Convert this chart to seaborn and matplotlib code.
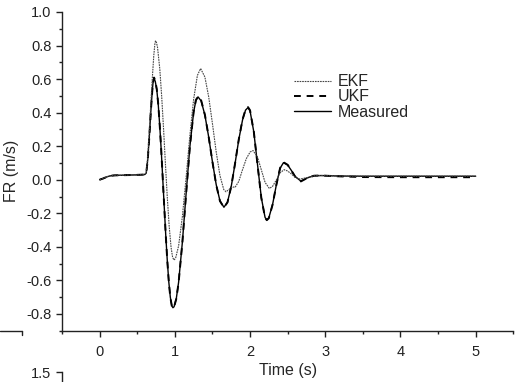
import matplotlib
matplotlib.use("Agg")
import matplotlib.pyplot as plt
from matplotlib.lines import Line2D
from matplotlib.ticker import MultipleLocator
import seaborn as sns
import pandas as pd

# ---------------- data ----------------
ukf_t = [0.0, 0.05, 0.10, 0.15, 0.20, 0.30, 0.40, 0.50, 0.60, 0.62, 0.64, 0.66, 0.68, 0.70, 0.71,
         0.724, 0.74, 0.76, 0.78, 0.80, 0.82, 0.85, 0.88, 0.90, 0.92, 0.94, 0.96, 0.975, 0.99, 1.02,
         1.05, 1.10, 1.15, 1.20, 1.25, 1.28, 1.308, 1.35, 1.40, 1.45, 1.50, 1.55, 1.60, 1.653, 1.70,
         1.75, 1.80, 1.85, 1.90, 1.94, 1.973, 2.00, 2.05, 2.10, 2.15, 2.20, 2.223, 2.25, 2.30, 2.35,
         2.40, 2.445, 2.50, 2.55, 2.60, 2.676, 2.75, 2.85, 2.95, 3.2, 3.5, 4.0, 4.5, 5.0]
ukf_v = [0.0, 0.008, 0.018, 0.024, 0.026, 0.027, 0.028, 0.029, 0.031, 0.04, 0.12, 0.25, 0.40, 0.53, 0.58,
         0.609, 0.59, 0.54, 0.448, 0.32, 0.171, -0.082, -0.335, -0.483, -0.609, -0.70, -0.753, -0.765, -0.759, -0.709,
         -0.614, -0.376, -0.084, 0.197, 0.405, 0.475, 0.497, 0.473, 0.387, 0.256, 0.107, -0.030, -0.127, -0.166, -0.135,
         -0.040, 0.095, 0.240, 0.359, 0.418, 0.433, 0.414, 0.287, 0.088, -0.109, -0.227, -0.241, -0.229, -0.148, -0.030,
         0.070, 0.104, 0.089, 0.055, 0.018, -0.010, 0.008, 0.024, 0.025, 0.020, 0.016, 0.015, 0.015, 0.015]

meas_t = ukf_t
meas_v = [0.0, 0.008, 0.018, 0.024, 0.026, 0.027, 0.028, 0.029, 0.031, 0.04, 0.12, 0.25, 0.40, 0.53, 0.578,
          0.604, 0.586, 0.537, 0.446, 0.318, 0.170, -0.083, -0.336, -0.484, -0.610, -0.700, -0.752, -0.763, -0.757, -0.707,
          -0.612, -0.374, -0.083, 0.197, 0.403, 0.472, 0.494, 0.470, 0.385, 0.255, 0.107, -0.029, -0.126, -0.164, -0.134,
          -0.040, 0.094, 0.238, 0.356, 0.415, 0.430, 0.411, 0.285, 0.088, -0.107, -0.225, -0.239, -0.227, -0.147, -0.030,
          0.069, 0.102, 0.088, 0.055, 0.019, -0.008, 0.009, 0.024, 0.025, 0.022, 0.021, 0.021, 0.021, 0.021]

ekf_t = [0.0, 0.05, 0.10, 0.15, 0.20, 0.30, 0.40, 0.50, 0.60, 0.62, 0.64, 0.66, 0.68, 0.70, 0.72,
         0.735, 0.743, 0.755, 0.77, 0.80, 0.825, 0.85, 0.875, 0.90, 0.925, 0.95, 0.97, 0.988, 1.01, 1.05,
         1.10, 1.15, 1.20, 1.25, 1.30, 1.343, 1.40, 1.45, 1.50, 1.55, 1.60, 1.65, 1.68, 1.72, 1.765,
         1.80, 1.85, 1.90, 1.95, 2.00, 2.04, 2.10, 2.15, 2.20, 2.257, 2.30, 2.35, 2.40, 2.453, 2.50,
         2.55, 2.60, 2.66, 2.75, 2.85, 2.95, 3.2, 3.5, 4.0, 4.5, 5.0]
ekf_v = [0.0, 0.008, 0.018, 0.024, 0.026, 0.027, 0.028, 0.029, 0.031, 0.04, 0.14, 0.28, 0.45, 0.60, 0.74,
         0.81, 0.828, 0.82, 0.789, 0.661, 0.499, 0.304, 0.095, -0.106, -0.277, -0.403, -0.461, -0.479, -0.468, -0.395,
         -0.221, 0.013, 0.263, 0.480, 0.622, 0.663, 0.612, 0.495, 0.335, 0.166, 0.025, -0.058, -0.072, -0.058, -0.042,
         -0.046, -0.010, 0.060, 0.125, 0.165, 0.174, 0.134, 0.059, -0.016, -0.052, -0.039, -0.001, 0.041, 0.060, 0.052,
         0.034, 0.015, 0.004, 0.012, 0.024, 0.025, 0.022, 0.021, 0.021, 0.021, 0.021]

labels = ["EKF", "UKF", "Measured"]
y_ticks = [-0.8, -0.6, -0.4, -0.2, 0.0, 0.2, 0.4, 0.6, 0.8, 1.0]
x_ticks = [0, 1, 2, 3, 4, 5]

# ---------------- style ----------------
sns.set_style("ticks")
plt.rcParams["font.family"] = ["Liberation Sans", "DejaVu Sans"]
plt.rcParams["axes.linewidth"] = 1.0
plt.rcParams["axes.edgecolor"] = "#222222"

W, H = 518, 382
fig = plt.figure(figsize=(W / 100, H / 100), dpi=100)
ax = fig.add_axes([62 / W, 1 - 330.7 / H, (513.3 - 62) / W, (330.7 - 12) / H])

df_ekf = pd.DataFrame({"t": ekf_t, "v": ekf_v})
df_ukf = pd.DataFrame({"t": ukf_t, "v": ukf_v})
df_meas = pd.DataFrame({"t": meas_t, "v": meas_v})

sns.lineplot(data=df_meas, x="t", y="v", ax=ax, color="black", lw=1.0, label=labels[2],
             sort=False, estimator=None)
sns.lineplot(data=df_ukf, x="t", y="v", ax=ax, color="black", lw=1.4, label=labels[1],
             sort=False, estimator=None)
sns.lineplot(data=df_ekf, x="t", y="v", ax=ax, color="#444444", lw=0.8, label=labels[0],
             sort=False, estimator=None)
lines = ax.get_lines()
lines[1].set_dashes((3.5, 3))
lines[2].set_dashes((1.5, 0.8))

ax.set_xlim(-0.5, 5.5)
ax.set_ylim(-0.9, 1.0)
ax.set_xticks(x_ticks)
ax.set_yticks(y_ticks)
ax.set_yticklabels([f"{v:.1f}" for v in y_ticks])
ax.xaxis.set_minor_locator(MultipleLocator(0.5))
ax.yaxis.set_minor_locator(MultipleLocator(0.1))
ax.tick_params(axis="both", which="major", direction="out", length=4.5, width=1.0,
               labelsize=10.5, colors="#222222", labelcolor="#222222", pad=3)
ax.tick_params(axis="both", which="minor", direction="out", length=2.5, width=1.0, colors="#222222")
ax.tick_params(axis="x", pad=6)
sns.despine(ax=ax)
ax.set_xlabel("Time (s)", fontsize=11.5, labelpad=3)
ax.set_ylabel("FR (m/s)", fontsize=11.5, labelpad=5)

handles, labs = ax.get_legend_handles_labels()
order = [labs.index(l) for l in labels]
ax.legend([handles[i] for i in order], [labs[i] for i in order], frameon=False,
          loc="upper left", bbox_to_anchor=(0.49, 0.84), fontsize=11.5,
          handlelength=2.3, handletextpad=0.4, labelspacing=0.02, borderpad=0.2)

# fragments of neighbouring panels visible at the crop edges
fig.add_artist(Line2D([0, 22 / W], [1 - 330.7 / H] * 2, color="#222222", lw=1.0))
fig.add_artist(Line2D([22 / W] * 2, [1 - 330.7 / H, 1 - 335 / H], color="#222222", lw=1.0))
ax2 = fig.add_axes([62 / W, 1 - 372 / H - 0.3, 0.3, 0.3])
ax2.set_ylim(0.0, 1.5)
ax2.set_yticks([1.5])
ax2.set_yticklabels(["1.5"])
ax2.set_xticks([])
ax2.tick_params(axis="y", direction="out", length=4.5, width=1.0, labelsize=10.5, colors="#222222")
for s in ["top", "right", "bottom"]:
    ax2.spines[s].set_visible(False)
ax2.patch.set_visible(False)

fig.savefig("out.png", dpi=100)
